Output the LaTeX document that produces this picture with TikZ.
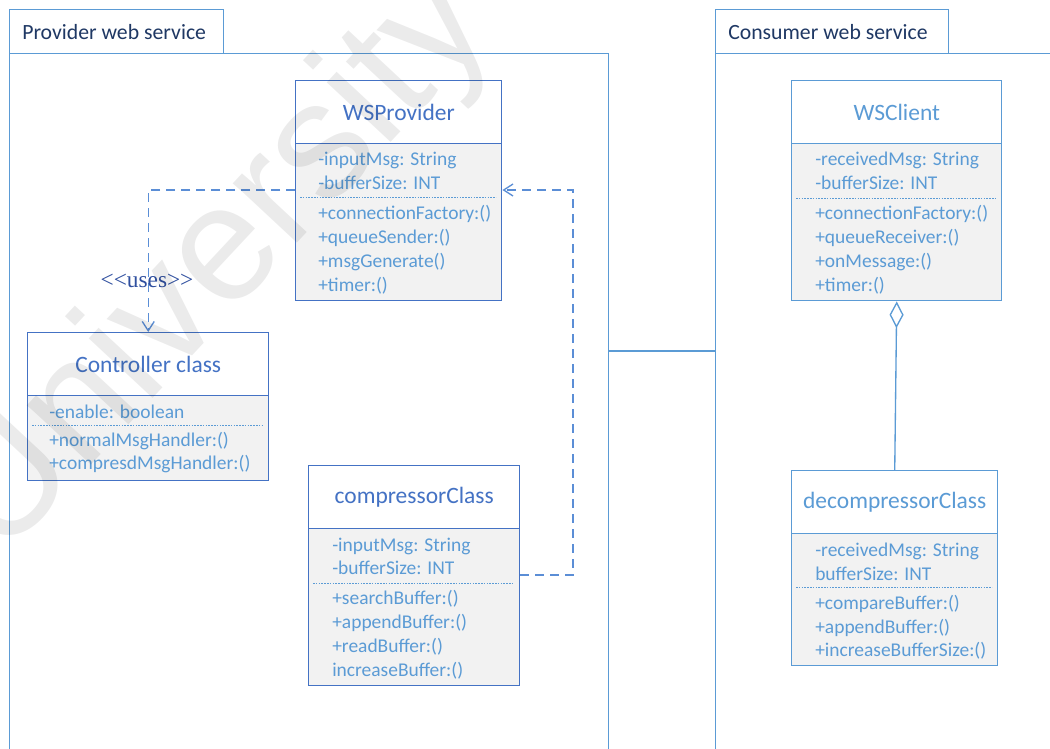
\documentclass[tikz,border=0pt]{standalone}
\usepackage{fontspec}
\setmainfont{Carlito}
\newfontfamily\timesfont{Liberation Serif}
\newfontfamily\wmfont{Liberation Sans}
\usetikzlibrary{arrows.meta}
\definecolor{dblue}{HTML}{4472C4}
\definecolor{lblue}{HTML}{5B9BD5}
\definecolor{navy}{HTML}{1F3864}
\definecolor{boxgray}{HTML}{F2F2F2}
\definecolor{dashblue}{HTML}{5B8ED6}
\definecolor{usesblue}{HTML}{2F4F9F}
\begin{document}
\begin{tikzpicture}[x=0.75pt,y=-0.75pt,
  frame/.style={draw=lblue, line width=0.9pt, inner sep=0, anchor=north west},
  pkgtitle/.style={anchor=west, text=navy, font=\fontsize{16.3}{19}\selectfont, inner sep=0},
  headL/.style={draw=dblue, line width=1.1pt, fill=white, anchor=north west, text=dblue, font=\fontsize{17.6}{20}\selectfont, inner sep=0},
  bodyL/.style={draw=dblue, line width=1.1pt, fill=boxgray, anchor=north west, inner sep=0},
  headR/.style={draw=lblue, line width=1.1pt, fill=white, anchor=north west, text=lblue, font=\fontsize{17.6}{20}\selectfont, inner sep=0},
  bodyR/.style={draw=lblue, line width=1.1pt, fill=boxgray, anchor=north west, inner sep=0},
  attr/.style={anchor=base west, text=lblue, font=\fontsize{14.6}{17}\selectfont, inner sep=0},
  sep/.style={draw=lblue, line width=0.75pt, dash pattern=on 1.2pt off 0.9pt},
  dep/.style={draw=dashblue, line width=1pt, dash pattern=on 6.75pt off 4.5pt},
  opentip/.style={-{Straight Barb[length=7pt,width=9pt]}},
  uses/.style={text=usesblue, font=\timesfont\fontsize{17.5}{20}\selectfont, inner sep=0},
]
\useasboundingbox (0,0) rectangle (1050,749);
\clip (0,0) rectangle (1050,749);
\fill[white] (0,0) rectangle (1050,749);

% packages
\node[frame, minimum width=449.25pt, minimum height=540pt] (pfr) at (9,53) {};
\node[frame, minimum width=160.5pt, minimum height=33pt] (ptab) at (9,9) {};
\node[pkgtitle] (ptitle) at (22,32) {Provider web service};
\node[frame, minimum width=300pt, minimum height=540pt] (cfr) at (715,53) {};
\node[frame, minimum width=174.75pt, minimum height=33pt] (ctab) at (715,9) {};
\node[pkgtitle] (ctitle) at (728,32) {Consumer web service};
\coordinate (k4) at (0,351);
\draw[draw=lblue, line width=0.9pt] (pfr.east |- k4) -- (cfr.west |- k4);

% WSProvider
\node[headL, minimum width=154.5pt, minimum height=47.25pt] (wsp) at (295,80) {WSProvider};
\node[bodyL, minimum width=154.5pt, minimum height=117.75pt] (wspb) at (295,143) {};
\node[attr] (wsp1) at (318,166) {-inputMsg: String};
\node[attr] (wsp2) at (318,190) {-bufferSize: INT};
\draw[sep] (300,197) -- (496,197);
\node[attr] (wsp3) at (318,219) {+connectionFactory:()};
\node[attr] (wsp4) at (318,243) {+queueSender:()};
\node[attr] (wsp5) at (318,267) {+msgGenerate()};
\node[attr] (wsp6) at (318,291) {+timer:()};

% Controller class
\node[headL, minimum width=180.75pt, minimum height=47.25pt] (ctl) at (27,332) {Controller class};
\node[bodyL, minimum width=180.75pt, minimum height=63.75pt] (ctlb) at (27,395) {};
\node[attr] (ctl1) at (49,418) {-enable: boolean};
\draw[sep] (32,425) -- (263,425);
\node[attr] (ctl2) at (49,446) {+normalMsgHandler:()};
\node[attr] (ctl3) at (49,469) {+compresdMsgHandler:()};

% compressorClass
\node[headL, minimum width=158.25pt, minimum height=47.25pt] (cmp) at (308,465) {compressorClass};
\node[bodyL, minimum width=158.25pt, minimum height=117.75pt] (cmpb) at (308,528) {};
\node[attr] (cmp1) at (332,551) {-inputMsg: String};
\node[attr] (cmp2) at (332,574) {-bufferSize: INT};
\draw[sep] (313,583) -- (513,583);
\node[attr] (cmp3) at (332,604) {+searchBuffer:()};
\node[attr] (cmp4) at (332,628) {+appendBuffer:()};
\node[attr] (cmp5) at (332,652) {+readBuffer:()};
\node[attr] (cmp6) at (332,676) {increaseBuffer:()};

% WSClient
\node[headR, minimum width=157.5pt, minimum height=47.25pt] (wsc) at (791,80) {WSClient};
\node[bodyR, minimum width=157.5pt, minimum height=117.75pt] (wscb) at (791,143) {};
\node[attr] (wsc1) at (815,166) {-receivedMsg: String};
\node[attr] (wsc2) at (815,190) {-bufferSize: INT};
\draw[sep] (796,198) -- (996,198);
\node[attr] (wsc3) at (815,219) {+connectionFactory:()};
\node[attr] (wsc4) at (815,243) {+queueReceiver:()};
\node[attr] (wsc5) at (815,267) {+onMessage:()};
\node[attr] (wsc6) at (815,291) {+timer:()};

% decompressorClass
\node[headR, minimum width=154.5pt, minimum height=47.25pt] (dec) at (791,470) {decompressorClass};
\node[bodyR, minimum width=154.5pt, minimum height=99pt] (decb) at (791,533) {};
\node[attr] (dec1) at (815,556) {-receivedMsg: String};
\node[attr] (dec2) at (815,580) {bufferSize: INT};
\draw[sep] (796,587) -- (992,587);
\node[attr] (dec3) at (815,609) {+compareBuffer:()};
\node[attr] (dec4) at (815,633) {+appendBuffer:()};
\node[attr] (dec5) at (815,656) {+increaseBufferSize:()};

% connectors
\coordinate (k1) at (0,190);
\draw[dep, opentip] (wspb.west |- k1) -- (ctl.north |- k1) -- (ctl.north);
\node[uses] (lab) at (147,281) {<\kern0pt<uses>\kern0pt>};
\coordinate (k3) at (573,575);
\draw[dep, opentip] (cmpb.east |- k3) -- (k3) -- (k3 |- k1) -- (wspb.east |- k1);
\draw[draw=lblue, line width=1pt, {Diamond[open,length=20pt,width=10.5pt]}-] (wscb.south) -- (dec.north);

% watermark
\node[rotate=47, text=black, text opacity=0.08, font=\wmfont\fontsize{124}{124}\selectfont, inner sep=0] (wm) at (218,266) {University};
\end{tikzpicture}
\end{document}
